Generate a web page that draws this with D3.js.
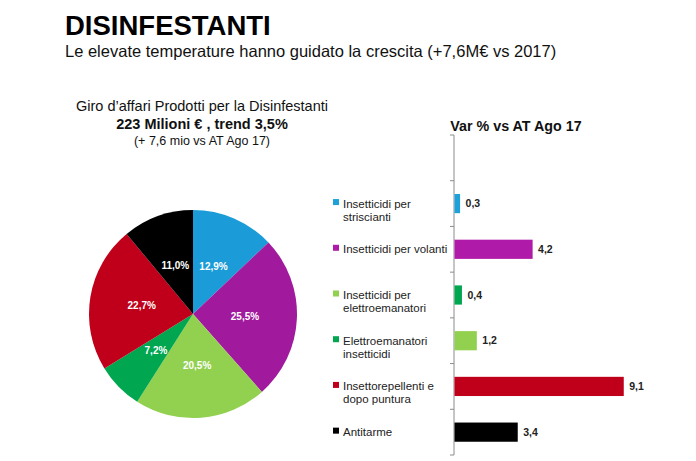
<!DOCTYPE html>
<html>
<head>
<meta charset="utf-8">
<script src="https://cdn.jsdelivr.net/npm/d3@7"></script>
<style>
  html, body { margin: 0; padding: 0; background: #fff; }
  svg { display: block; font-family: "Liberation Sans", Arial, sans-serif; }
</style>
</head>
<body>
<svg id="chart" width="696" height="461"></svg>
<script>
// ---- data ----
const pieCategories = ["Insetticidi per striscianti", "Insetticidi per volanti", "Insetticidi per elettroemanatori", "Elettroemanatori insetticidi", "Insettorepellenti e dopo puntura", "Antitarme"];
const pieShares = [12.9, 25.5, 20.5, 7.2, 22.7, 11.0];
const pieLabels = ["12,9%", "25,5%", "20,5%", "7,2%", "22,7%", "11,0%"];

const barLegendLines = [
  ["Insetticidi per", "striscianti"],
  ["Insetticidi per volanti"],
  ["Insetticidi per", "elettroemanatori"],
  ["Elettroemanatori", "insetticidi"],
  ["Insettorepellenti e", "dopo puntura"],
  ["Antitarme"]
];
const barValues = [0.3, 4.2, 0.4, 1.2, 9.1, 3.4];
const barValueLabels = ["0,3", "4,2", "0,4", "1,2", "9,1", "3,4"];

const titleText = "DISINFESTANTI";
const subtitleText = "Le elevate temperature hanno guidato la crescita (+7,6M€ vs 2017)";
const pieHeader = ["Giro d’affari Prodotti per la Disinfestanti", "223 Milioni € , trend 3,5%", "(+ 7,6 mio vs AT Ago 17)"];
const barTitle = "Var % vs AT Ago 17";

// ---- styles ----
const pieColors = ["#1b9bd7", "#a1199d", "#92d050", "#00a650", "#c0001a", "#000000"];
const barColors = ["#1ea1d9", "#b01aa8", "#00a650", "#92d050", "#c0001a", "#000000"];
const legendColors = ["#1ea1d9", "#b01aa8", "#92d050", "#00a650", "#c0001a", "#000000"];

const svg = d3.select("#chart");

// titles
svg.append("text").attr("x", 65).attr("y", 35)
  .attr("font-size", 27.5).attr("font-weight", "bold").attr("fill", "#000")
  .text(titleText);
svg.append("text").attr("x", 65).attr("y", 57)
  .attr("font-size", 16.5).attr("fill", "#111")
  .text(subtitleText);

// pie header
const hdr = svg.append("g").attr("text-anchor", "middle").attr("fill", "#111");
hdr.append("text").attr("x", 202).attr("y", 111).attr("font-size", 14.5).text(pieHeader[0]);
hdr.append("text").attr("x", 202).attr("y", 129).attr("font-size", 14.5).attr("font-weight", "bold").text(pieHeader[1]);
hdr.append("text").attr("x", 202).attr("y", 145).attr("font-size", 12.5).text(pieHeader[2]);

// pie
const cx = 193, cy = 314, R = 104;
const pie = d3.pie().sort(null).value(d => d)(pieShares);
const arc = d3.arc().innerRadius(0).outerRadius(R);
const pg = svg.append("g").attr("transform", `translate(${cx},${cy})`);
pg.selectAll("path").data(pie).join("path")
  .attr("d", arc)
  .attr("fill", (d, i) => pieColors[i]);
pg.selectAll("text").data(pie).join("text")
  .attr("transform", d => `translate(${arc.centroid(d)})`)
  .attr("text-anchor", "middle").attr("dy", "0.35em")
  .attr("font-size", 10).attr("font-weight", "bold").attr("fill", "#fff")
  .text((d, i) => pieLabels[i]);

// bar chart
const axisX = 454, yTop = 135, yBot = 455;
const slots = [" "].concat(pieCategories);
const y = d3.scaleBand().domain(slots).range([yTop, yBot]).paddingInner(0.58).paddingOuter(0.29);
const x = d3.scaleLinear().domain([0, 10]).range([axisX, axisX + 186]);

svg.append("text").attr("x", 516).attr("y", 131).attr("text-anchor", "middle")
  .attr("font-size", 14.3).attr("font-weight", "bold").attr("fill", "#111")
  .text(barTitle);

// axis
const axisG = svg.append("g").attr("transform", `translate(${axisX},0)`);
const boundaries = slots.map(s => y(s) - y.step() * y.paddingInner() / 2).concat([yBot]);
axisG.append("line").attr("x1", 0).attr("x2", 0).attr("y1", yTop).attr("y2", yBot)
  .attr("stroke", "#8c8c8c").attr("stroke-width", 1);
axisG.selectAll("line.tick").data(boundaries).join("line").attr("class", "tick")
  .attr("x1", -4).attr("x2", 0).attr("y1", d => d).attr("y2", d => d)
  .attr("stroke", "#8c8c8c").attr("stroke-width", 1);

// bars
svg.append("g").selectAll("rect").data(barValues).join("rect")
  .attr("x", x(0) + 0.5)
  .attr("y", (d, i) => y(pieCategories[i]))
  .attr("width", d => x(d) - x(0))
  .attr("height", y.bandwidth())
  .attr("fill", (d, i) => barColors[i]);

svg.append("g").selectAll("text").data(barValues).join("text")
  .attr("x", d => x(d) + 6)
  .attr("y", (d, i) => y(pieCategories[i]) + y.bandwidth() / 2)
  .attr("dy", "0.35em")
  .attr("font-size", 10.5).attr("font-weight", "bold").attr("fill", "#222")
  .text((d, i) => barValueLabels[i]);

// legend labels
const lg = svg.append("g");
pieCategories.forEach((c, i) => {
  const yc = y(c) + y.bandwidth() / 2;
  lg.append("rect").attr("x", 333).attr("y", yc - 4.5).attr("width", 6).attr("height", 6)
    .attr("fill", legendColors[i]);
  const t = lg.append("text").attr("x", 343).attr("y", yc)
    .attr("font-size", 11.5).attr("fill", "#222");
  barLegendLines[i].forEach((line, j) => {
    t.append("tspan").attr("x", 343).attr("dy", j === 0 ? "0.35em" : 13).text(line);
  });
});
</script>
</body>
</html>
